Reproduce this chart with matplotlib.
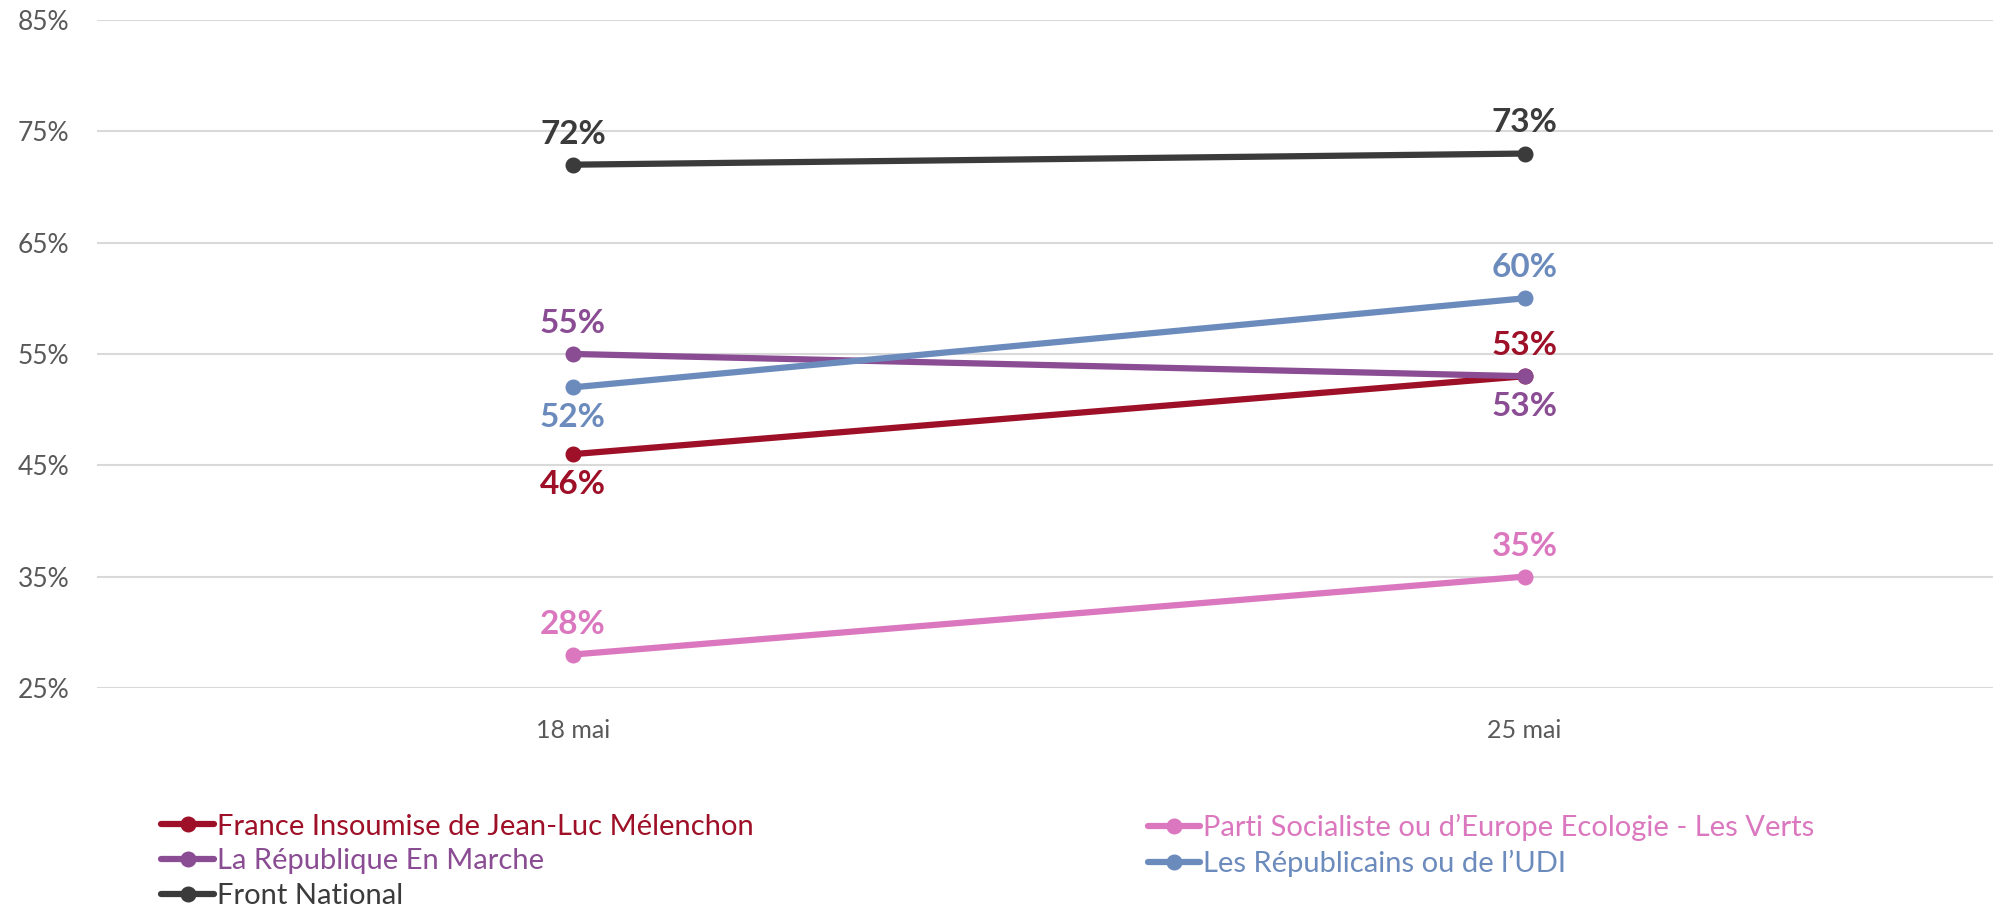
import matplotlib
matplotlib.use("Agg")
import matplotlib.pyplot as plt

plt.rcParams['font.family'] = ['Lato', 'DejaVu Sans']

dates = ['18 mai', '25 mai']
fi = [46, 53]
lrem = [55, 53]
fn = [72, 73]
ps = [28, 35]
lr = [52, 60]

names = ['France Insoumise de Jean-Luc Mélenchon', 'La République En Marche', 'Front National',
         'Parti Socialiste ou d\u2019Europe Ecologie - Les Verts', 'Les Républicains ou de l\u2019UDI']
colors = ['#9E1027', '#8A4C93', '#3B3B3B', '#DA77BE', '#6C8BBD']
series = [fi, lrem, fn, ps, lr]
# +1 = label above the point, -1 = below
label_side = [[-1, 1], [1, -1], [1, 1], [1, 1], [-1, 1]]

fig = plt.figure(figsize=(19.93, 9.07), dpi=100)
ax = fig.add_axes([0.0487, 0.2415, 0.955, 0.7365])

x = list(range(len(dates)))
lines = []
for vals, col, name, side in zip(series, colors, names, label_side):
    ln, = ax.plot(x, vals, color=col, lw=4.5, marker='o', ms=10.5, label=name,
                  solid_capstyle='round', zorder=3)
    lines.append(ln)
    for xi, v, s in zip(x, vals, side):
        ax.annotate(f'{v}%', (xi, v), xytext=(0, 22 * s), textcoords='offset points',
                    ha='center', va='center', fontsize=24, fontweight='bold', color=col)

ax.set_xlim(-0.5, 1.5)
ax.set_ylim(25, 85)
ax.set_yticks(range(25, 86, 10))
ax.set_yticklabels([f'{t}%' for t in range(25, 86, 10)])
ax.set_xticks(x)
ax.set_xticklabels(dates)
ax.tick_params(axis='y', length=0, pad=20, labelsize=19, labelcolor='#595959')
ax.tick_params(axis='x', length=0, pad=22, labelsize=18, labelcolor='#595959')
ax.grid(axis='y', color='#D9D9D9', lw=1.5)
ax.set_axisbelow(True)
for sp in ax.spines.values():
    sp.set_visible(False)

leg_kw = dict(loc='upper left', frameon=False, fontsize=21, labelcolor='linecolor',
              handlelength=1.8, handletextpad=0.1, labelspacing=0.3,
              borderaxespad=0, borderpad=0)
leg1 = fig.legend(handles=lines[:3], bbox_to_anchor=(0.081, 0.103), **leg_kw)
leg2 = fig.legend(handles=lines[3:], bbox_to_anchor=(0.576, 0.103), **leg_kw)

fig.savefig('out.png', dpi=100)
